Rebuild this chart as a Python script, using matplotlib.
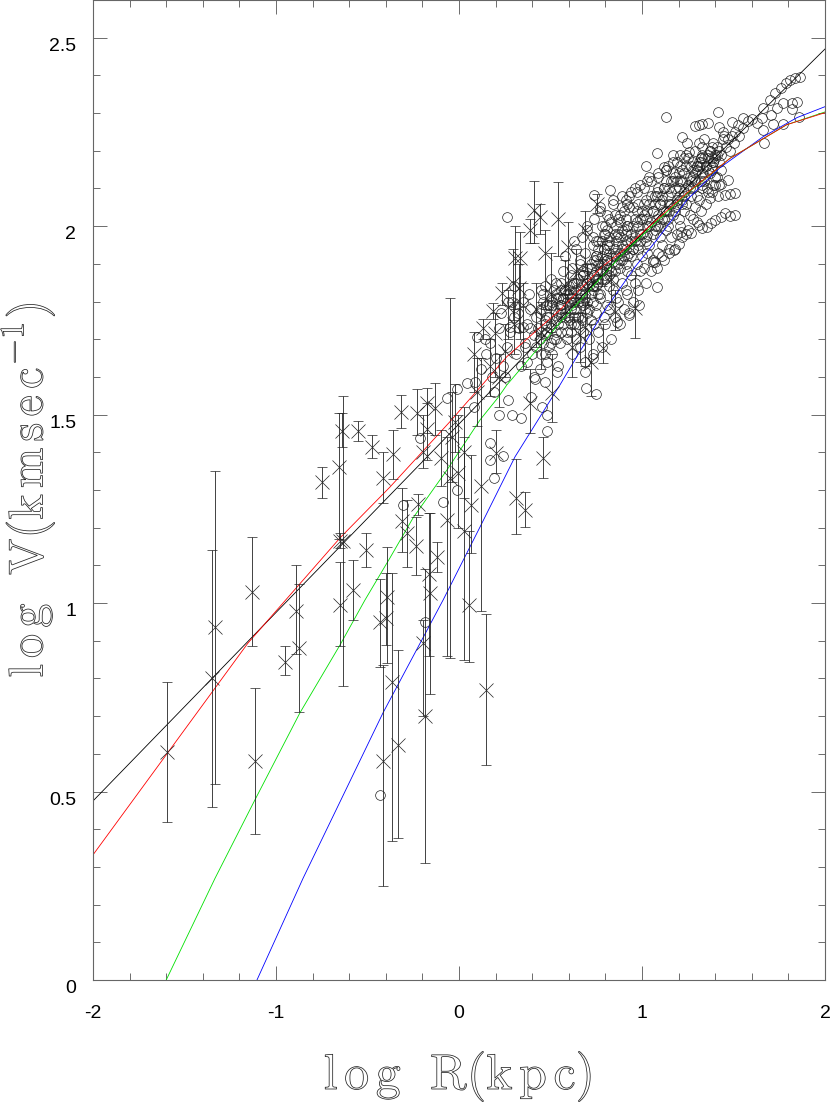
import numpy as np
import matplotlib
matplotlib.use('Agg')
import matplotlib.pyplot as plt
import matplotlib.patheffects as pe
from matplotlib.ticker import MultipleLocator, FixedLocator

# crosses with error bars: log R, log V, upper end, lower end
cross_r = [-1.596, -1.35, -1.333, -1.115, -1.131, -0.95, -0.89, -0.875, -0.65, -0.634,
           -0.65, -0.64, -0.655, -0.75, -0.58, -0.51, -0.55, -0.475, -0.36, -0.415,
           -0.317, -0.23, -0.175, -0.13, -0.175, -0.197, -0.31, -0.224, -0.284, -0.235,
           -0.12, -0.164, -0.16, -0.066, -0.43, -0.393, -0.40, -0.366, -0.415, -0.333,
           -0.186, -0.197, 0.147, 0.055, -0.005, -0.05, 0.03, 0.065, 0.12, 0.03,
           -0.04, -0.10, 0.20, 0.31, 0.36, 0.46, 0.39, 0.51, 0.41, 0.54,
           0.44, 0.39, 0.754, 0.47, 0.306, 0.333, 0.295, 0.328, 0.235, 0.186,
           0.268, 0.35, 0.131, 0.197, 0.596, 0.69, 0.688, 0.852, 0.787, 0.66,
           0.962, 0.10, 0.17, 0.25, 0.08, 0.22, 0.30, 0.42, 0.50, 0.58,
           0.64, 0.70, 0.78, 0.83, 0.62, 0.72, 0.45, -0.02]
cross_v = [0.605, 0.80, 0.937, 0.58, 1.03, 0.845, 0.98, 0.88, 0.995, 1.165,
           1.165, 1.457, 1.36, 1.32, 1.035, 1.14, 1.457, 1.415, 1.395, 1.333,
           1.508, 1.505, 1.53, 1.518, 1.462, 1.40, 1.218, 1.263, 1.186, 1.152,
           1.123, 1.077, 1.027, 1.22, 0.95, 1.015, 0.96, 0.79, 0.58, 0.623,
           0.70, 0.895, 0.77, 0.995, 1.345, 1.333, 1.19, 1.26, 1.31, 1.40,
           1.44, 1.385, 1.398, 1.28, 1.247, 1.385, 1.53, 1.557, 2.043, 2.02,
           2.025, 1.99, 2.06, 1.93, 1.916, 1.916, 1.85, 1.836, 1.823, 1.775,
           1.786, 1.79, 1.73, 1.717, 1.945, 1.99, 1.733, 1.773, 1.677, 1.71,
           1.783, 1.56, 1.63, 1.67, 1.66, 1.60, 1.74, 1.78, 1.82, 1.84,
           1.88, 1.85, 1.90, 1.86, 1.68, 1.64, 1.72, 1.48]
cross_top = [0.79, 1.14, 1.35, 0.775, 1.175, 0.885, 1.10, 1.05, 1.11, 1.55,
             1.185, 1.505, 1.505, 1.36, 1.115, 1.185, 1.483, 1.447, 1.46, 1.40,
             1.553, 1.567, 1.57, 1.584, 1.53, 1.50, 1.305, 1.29, 1.273, 1.229,
             1.162, 1.24, 1.24, 1.44, 1.065, 1.15, 1.08, 1.08, 0.835, 0.876,
             1.09, 0.955, 0.97, 1.19, 1.50, 1.81, 1.44, 1.393, 1.65, 1.52,
             1.56, 1.46, 1.46, 1.383, 1.295, 1.44, 1.62, 1.66, 2.12, 2.118,
             2.06, 2.02, 2.085, 1.99, 2.0, 1.985, 1.94, 1.90, 1.85, 1.795,
             1.83, 1.85, 1.755, 1.77, 2.01, 2.04, 1.80, 1.83, 1.74, 1.77,
             1.87, 1.65, 1.70, 1.74, 1.72, 1.66, 1.80, 1.85, 1.93, 1.91,
             1.94, 1.90, 1.96, 1.93, 1.76, 1.74, 1.80, 1.58]
cross_bot = [0.42, 0.46, 0.52, 0.387, 0.885, 0.81, 0.865, 0.71, 0.885, 0.78,
             1.145, 1.415, 1.17, 1.28, 0.955, 1.095, 1.43, 1.385, 1.33, 1.265,
             1.465, 1.447, 1.45, 1.447, 1.38, 1.358, 1.136, 1.235, 1.096, 1.075,
             1.083, 0.86, 0.76, 0.86, 0.83, 0.84, 0.89, 0.37, 0.25, 0.377,
             0.31, 0.70, 0.57, 0.845, 1.20, 0.855, 0.85, 1.133, 0.98, 1.28,
             1.32, 1.31, 1.345, 1.184, 1.202, 1.333, 1.45, 1.48, 1.956, 1.92,
             1.98, 1.955, 2.035, 1.78, 1.78, 1.70, 1.75, 1.72, 1.79, 1.755,
             1.70, 1.62, 1.70, 1.60, 1.82, 1.88, 1.63, 1.725, 1.637, 1.64,
             1.704, 1.47, 1.55, 1.60, 1.56, 1.52, 1.66, 1.68, 1.72, 1.77,
             1.81, 1.79, 1.84, 1.80, 1.60, 1.55, 1.62, 1.40]

# open circles read one by one where they stand apart
lone_r = [1.863, 1.836, 1.809, 1.787, 1.76, 1.727, 1.70, 1.661, 1.847, 1.82,
          1.77, 1.738, 1.82, 1.858, 1.77, 1.705, 1.656, 1.552, 1.525, 1.492,
          1.661, 1.667, 1.716, 1.60, 1.63, 1.58, 1.415, 1.131, 1.36, 1.33,
          1.31, 1.29, 1.42, 1.44, 1.219, 1.246, 1.311, 1.257, 1.08, 1.169,
          1.022, 1.12, 1.508, 1.48, 1.454, 1.43, 1.399, 1.375, 1.355, 1.33,
          1.311, 1.30, 1.268, 1.24, 1.213, 1.202, 1.175, 1.15, 1.11, 1.07,
          1.508, 1.48, 1.454, 1.415, 1.372, 1.355, 1.399, 1.43, 1.47, -0.43,
          -0.187, 0.098, -0.01, 0.044, -0.066, 0.087, 0.082, 0.268, 0.29, 0.339,
          0.393, -0.213, 0.169, 0.169, 0.24, 0.191, -0.011, -0.087, -0.306, 0.47,
          0.48, 0.481, 0.535, 0.454, 0.415, 0.279, 0.35, 0.388, 0.694, 0.749,
          0.984, 0.929, 0.863, 0.689, 0.732, 0.262, 0.738, 0.825, 1.082, 1.06]
lone_v = [2.397, 2.393, 2.388, 2.38, 2.367, 2.354, 2.335, 2.314, 2.33, 2.327,
          2.327, 2.314, 2.312, 2.29, 2.27, 2.296, 2.288, 2.288, 2.269, 2.277,
          2.256, 2.22, 2.272, 2.285, 2.275, 2.28, 2.304, 2.29, 2.274, 2.27,
          2.268, 2.266, 2.264, 2.25, 2.237, 2.22, 2.22, 2.197, 2.195, 2.19,
          2.16, 2.158, 2.03, 2.028, 2.036, 2.025, 2.017, 2.008, 1.998, 1.996,
          2.004, 2.012, 1.982, 1.98, 1.985, 1.953, 1.937, 1.94, 1.92, 1.905,
          2.089, 2.085, 2.083, 2.08, 2.075, 2.102, 2.11, 2.112, 2.123, 0.49,
          0.95, 1.706, 1.568, 1.584, 1.545, 1.587, 1.52, 1.539, 1.50, 1.491,
          1.547, 1.438, 1.425, 1.38, 1.39, 1.333, 1.30, 1.269, 1.26, 1.587,
          1.50, 1.457, 1.614, 1.52, 1.595, 1.733, 1.733, 1.73, 1.571, 1.555,
          1.791, 1.765, 1.746, 1.614, 1.65, 2.025, 2.083, 2.096, 1.839, 1.906]

# open circles in the dense band, eight to a row
band_r = [0.44, 0.45, 0.46, 0.45, 0.47, 0.44, 0.46, 0.45,
          0.48, 0.49, 0.47, 0.50, 0.48, 0.49, 0.50, 0.47,
          0.51, 0.52, 0.50, 0.53, 0.52, 0.51, 0.53, 0.50,
          0.54, 0.55, 0.53, 0.56, 0.55, 0.54, 0.56, 0.53,
          0.56, 0.57, 0.58, 0.56, 0.57, 0.58, 0.56, 0.57,
          0.59, 0.60, 0.58, 0.61, 0.59, 0.60, 0.61, 0.58,
          0.62, 0.61, 0.63, 0.62, 0.61, 0.63, 0.62, 0.64,
          0.64, 0.65, 0.63, 0.66, 0.64, 0.65, 0.66, 0.63,
          0.66, 0.67, 0.68, 0.66, 0.67, 0.68, 0.66, 0.67,
          0.69, 0.68, 0.70, 0.69, 0.70, 0.68, 0.69, 0.70,
          0.71, 0.72, 0.70, 0.73, 0.71, 0.72, 0.73, 0.70,
          0.73, 0.74, 0.75, 0.73, 0.74, 0.75, 0.73, 0.74,
          0.76, 0.75, 0.77, 0.76, 0.77, 0.75, 0.76, 0.77,
          0.78, 0.79, 0.77, 0.80, 0.78, 0.79, 0.80, 0.77,
          0.80, 0.81, 0.82, 0.80, 0.81, 0.82, 0.80, 0.81,
          0.83, 0.82, 0.84, 0.83, 0.84, 0.82, 0.83, 0.84,
          0.85, 0.86, 0.84, 0.87, 0.85, 0.86, 0.87, 0.84,
          0.88, 0.87, 0.89, 0.88, 0.89, 0.87, 0.88, 0.89,
          0.90, 0.91, 0.92, 0.90, 0.91, 0.92, 0.90, 0.91,
          0.93, 0.92, 0.94, 0.93, 0.94, 0.92, 0.93, 0.94,
          0.95, 0.96, 0.97, 0.95, 0.96, 0.97, 0.95, 0.96,
          0.98, 0.99, 1.00, 0.98, 0.99, 1.00, 0.98, 0.99,
          1.02, 1.01, 1.03, 1.02, 1.03, 1.01, 1.02, 1.03,
          1.05, 1.06, 1.04, 1.07, 1.05, 1.06, 1.07, 1.04,
          1.08, 1.09, 1.10, 1.08, 1.09, 1.10, 1.08, 1.09,
          1.12, 1.11, 1.13, 1.12, 1.13, 1.11, 1.12, 1.13,
          1.15, 1.16, 1.14, 1.17, 1.15, 1.16, 1.17, 1.14,
          1.18, 1.19, 1.20, 1.18, 1.19, 1.20, 1.18, 1.19,
          1.22, 1.21, 1.23, 1.22, 1.23, 1.21, 1.22, 1.23,
          1.25, 1.26, 1.24, 1.27, 1.25, 1.26, 1.27, 1.24,
          1.28, 1.29, 1.30, 1.28, 1.29, 1.30, 1.28, 1.29,
          1.32, 1.31, 1.33, 1.32, 1.33, 1.31, 1.32, 1.33,
          1.35, 1.36, 1.34, 1.37, 1.35, 1.36, 1.37, 1.34,
          1.38, 1.39, 1.40, 1.38, 1.39, 1.40, 1.38, 1.39,
          1.42, 1.41, 1.43, 1.42, 1.43, 1.41, 1.44, 1.45,
          1.46, 1.47, 1.48, 1.49, 1.50, 1.51, 1.53, 1.55]
band_v = [1.62, 1.66, 1.69, 1.72, 1.74, 1.77, 1.80, 1.83,
          1.64, 1.68, 1.71, 1.74, 1.76, 1.79, 1.81, 1.84,
          1.66, 1.70, 1.73, 1.75, 1.78, 1.80, 1.82, 1.86,
          1.63, 1.69, 1.72, 1.76, 1.78, 1.81, 1.83, 1.85,
          1.72, 1.74, 1.76, 1.79, 1.81, 1.83, 1.85, 1.88,
          1.70, 1.75, 1.77, 1.80, 1.82, 1.84, 1.87, 1.92,
          1.66, 1.72, 1.76, 1.79, 1.81, 1.85, 1.89, 1.94,
          1.70, 1.74, 1.78, 1.81, 1.83, 1.86, 1.90, 1.96,
          1.68, 1.75, 1.79, 1.82, 1.84, 1.87, 1.91, 1.97,
          1.64, 1.72, 1.77, 1.81, 1.85, 1.88, 1.93, 1.99,
          1.70, 1.75, 1.80, 1.83, 1.86, 1.90, 1.95, 2.00,
          1.66, 1.74, 1.79, 1.84, 1.87, 1.91, 1.97, 2.02,
          1.72, 1.77, 1.82, 1.85, 1.88, 1.92, 1.96, 2.04,
          1.68, 1.76, 1.81, 1.86, 1.90, 1.94, 1.98, 2.05,
          1.74, 1.79, 1.84, 1.87, 1.91, 1.95, 2.00, 2.03,
          1.70, 1.78, 1.83, 1.88, 1.92, 1.96, 2.01, 2.06,
          1.76, 1.81, 1.86, 1.90, 1.93, 1.97, 2.02, 2.07,
          1.74, 1.80, 1.85, 1.91, 1.94, 1.98, 2.03, 2.08,
          1.78, 1.83, 1.88, 1.92, 1.95, 1.99, 2.04, 2.07,
          1.77, 1.82, 1.87, 1.93, 1.96, 2.00, 2.05, 2.09,
          1.80, 1.85, 1.90, 1.94, 1.97, 2.01, 2.05, 2.10,
          1.83, 1.88, 1.92, 1.95, 1.98, 2.02, 2.06, 2.11,
          1.85, 1.89, 1.93, 1.97, 2.00, 2.03, 2.07, 2.12,
          1.88, 1.91, 1.95, 1.99, 2.01, 2.04, 2.08, 2.13,
          1.89, 1.93, 1.97, 2.00, 2.03, 2.06, 2.09, 2.14,
          1.91, 1.95, 1.99, 2.02, 2.04, 2.07, 2.10, 2.15,
          1.93, 1.97, 2.00, 2.03, 2.06, 2.09, 2.12, 2.16,
          1.94, 1.98, 2.02, 2.05, 2.07, 2.10, 2.13, 2.17,
          1.97, 2.00, 2.04, 2.07, 2.09, 2.12, 2.15, 2.18,
          1.99, 2.03, 2.06, 2.08, 2.11, 2.13, 2.16, 2.19,
          2.02, 2.05, 2.08, 2.10, 2.12, 2.15, 2.17, 2.20,
          2.04, 2.07, 2.10, 2.12, 2.14, 2.16, 2.18, 2.21,
          2.06, 2.09, 2.12, 2.14, 2.16, 2.18, 2.20, 2.23,
          2.09, 2.11, 2.13, 2.15, 2.17, 2.19, 2.21, 2.22,
          2.11, 2.13, 2.15, 2.17, 2.19, 2.21, 2.23, 2.24,
          2.21, 2.23, 2.20, 2.24, 2.22, 2.25, 2.24, 2.26]

# second pass over the band: the tight stacks and the part below log R = 0.5
stack_r = [0.12, 0.15, 0.18, 0.14, 0.20, 0.17, 0.22, 0.19,
           0.24, 0.26, 0.23, 0.28, 0.25, 0.27, 0.30, 0.22,
           0.31, 0.33, 0.29, 0.34, 0.32, 0.36, 0.30, 0.35,
           0.37, 0.39, 0.36, 0.41, 0.38, 0.40, 0.42, 0.37,
           0.43, 0.45, 0.42, 0.47, 0.44, 0.46, 0.48, 0.41,
           0.49, 0.51, 0.48, 0.53, 0.50, 0.52, 0.54, 0.47,
           0.55, 0.57, 0.54, 0.59, 0.56, 0.58, 0.60, 0.53,
           0.60, 0.61, 0.62, 0.60, 0.61, 0.62, 0.63, 0.59,
           0.64, 0.65, 0.66, 0.64, 0.65, 0.66, 0.67, 0.63,
           0.68, 0.69, 0.70, 0.68, 0.69, 0.70, 0.71, 0.67,
           0.72, 0.73, 0.74, 0.72, 0.73, 0.74, 0.75, 0.71,
           0.75, 0.76, 0.75, 0.76, 0.75, 0.76, 0.75, 0.76,
           0.78, 0.78, 0.79, 0.78, 0.79, 0.78, 0.79, 0.78,
           0.82, 0.82, 0.81, 0.82, 0.81, 0.82, 0.81, 0.82,
           0.85, 0.85, 0.86, 0.85, 0.86, 0.85, 0.86, 0.85,
           0.88, 0.89, 0.88, 0.89, 0.88, 0.89, 0.88, 0.89,
           0.91, 0.92, 0.91, 0.92, 0.91, 0.92, 0.91, 0.92,
           0.94, 0.95, 0.96, 0.94, 0.95, 0.96, 0.97, 0.93,
           0.98, 0.99, 1.00, 0.98, 0.99, 1.00, 1.01, 0.97,
           1.02, 1.03, 1.04, 1.02, 1.03, 1.04, 1.05, 1.01,
           1.06, 1.07, 1.08, 1.06, 1.07, 1.08, 1.09, 1.05,
           1.10, 1.11, 1.12, 1.10, 1.11, 1.12, 1.13, 1.09,
           1.14, 1.15, 1.16, 1.14, 1.15, 1.16, 1.17, 1.13,
           1.18, 1.19, 1.20, 1.18, 1.19, 1.20, 1.21, 1.17,
           1.22, 1.23, 1.24, 1.22, 1.23, 1.24, 1.25, 1.21,
           1.26, 1.27, 1.28, 1.29, 1.30, 1.31, 1.32, 1.33,
           1.28, 1.30, 1.32, 1.34, 1.35, 1.36, 1.37, 1.38,
           1.33, 1.34, 1.36, 1.38, 1.39, 1.40, 1.41, 1.42]
stack_v = [1.62, 1.66, 1.60, 1.70, 1.65, 1.69, 1.73, 1.56,
           1.63, 1.68, 1.77, 1.72, 1.60, 1.80, 1.76, 1.50,
           1.66, 1.73, 1.80, 1.63, 1.77, 1.69, 1.84, 1.80,
           1.74, 1.78, 1.68, 1.71, 1.82, 1.66, 1.76, 1.64,
           1.73, 1.78, 1.68, 1.75, 1.70, 1.82, 1.79, 1.60,
           1.76, 1.79, 1.72, 1.81, 1.69, 1.83, 1.77, 1.66,
           1.79, 1.81, 1.74, 1.80, 1.77, 1.83, 1.82, 1.70,
           1.76, 1.78, 1.81, 1.83, 1.74, 1.85, 1.80, 1.72,
           1.78, 1.80, 1.83, 1.85, 1.76, 1.87, 1.82, 1.74,
           1.80, 1.82, 1.85, 1.87, 1.78, 1.89, 1.84, 1.76,
           1.82, 1.84, 1.87, 1.89, 1.80, 1.91, 1.86, 1.78,
           1.84, 1.86, 1.88, 1.90, 1.92, 1.94, 1.96, 1.82,
           1.86, 1.88, 1.90, 1.92, 1.94, 1.96, 1.98, 2.00,
           1.87, 1.89, 1.91, 1.93, 1.95, 1.97, 1.99, 2.02,
           1.88, 1.90, 1.92, 1.94, 1.96, 1.98, 2.00, 2.03,
           1.89, 1.91, 1.93, 1.95, 1.97, 1.99, 2.01, 2.05,
           1.90, 1.92, 1.94, 1.96, 1.98, 2.00, 2.02, 2.06,
           1.92, 1.94, 1.96, 1.98, 2.00, 2.02, 2.04, 2.08,
           1.94, 1.96, 1.98, 2.00, 2.02, 2.04, 2.06, 2.09,
           1.96, 1.98, 2.00, 2.02, 2.04, 2.06, 2.08, 2.10,
           1.98, 2.00, 2.02, 2.04, 2.06, 2.08, 2.10, 2.12,
           2.00, 2.02, 2.04, 2.06, 2.08, 2.10, 2.12, 2.13,
           2.02, 2.04, 2.06, 2.08, 2.10, 2.12, 2.14, 2.15,
           2.04, 2.06, 2.08, 2.10, 2.12, 2.14, 2.16, 2.17,
           2.06, 2.08, 2.10, 2.12, 2.14, 2.16, 2.18, 2.19,
           2.10, 2.12, 2.13, 2.14, 2.16, 2.17, 2.18, 2.19,
           2.15, 2.16, 2.17, 2.18, 2.16, 2.19, 2.20, 2.18,
           2.11, 2.13, 2.15, 2.16, 2.17, 2.18, 2.19, 2.20]

# fit curves
black_r = [-2.0, -1.35, -0.05, 1.443, 2.0]
black_v = [0.475, 0.80, 1.45, 2.203, 2.47]
red_r = [-2.0, -1.153, -0.65, -0.377, -0.05, 0.262, 0.552, 0.781, 0.88, 1.08,
         1.246, 1.481, 1.607, 1.79, 2.0]
red_v = [0.332, 0.894, 1.173, 1.308, 1.481, 1.654, 1.778, 1.892, 1.929, 2.017,
         2.088, 2.18, 2.216, 2.269, 2.301]
green_r = [-1.60, -1.333, -1.115, -0.869, -0.65, -0.514, -0.377, -0.251, -0.066, 0.115,
           0.213, 0.262, 0.552, 0.781, 0.88, 1.08, 1.246, 1.481, 1.607, 1.79, 2.0]
green_v = [0.0, 0.27, 0.478, 0.709, 0.889, 1.008, 1.12, 1.226, 1.353, 1.486,
           1.545, 1.579, 1.744, 1.866, 1.919, 2.012, 2.086, 2.18, 2.216, 2.269, 2.303]
blue_r = [-1.104, -0.852, -0.415, -0.087, 0.115, 0.306, 0.508, 0.552, 0.787, 0.962,
          1.082, 1.246, 1.426, 1.661, 1.847, 2.0]
blue_v = [0.0, 0.27, 0.709, 1.008, 1.202, 1.388, 1.545, 1.579, 1.77, 1.892,
          1.964, 2.07, 2.155, 2.237, 2.288, 2.317]

xtick_vals = [-2, -1, 0, 1, 2]
xtick_text = ['-2', '-1', '0', '1', '2']
ytick_vals = [0, 0.5, 1, 1.5, 2, 2.5]
ytick_text = ['0', '0.5', '1', '1.5', '2', '2.5']

plt.rcParams['mathtext.fontset'] = 'cm'

fig = plt.figure(figsize=(8.3, 11.05), dpi=100)
ax = fig.add_axes([93/830, 125/1105, 732/830, 980/1105])

for cr, cv in [(lone_r, lone_v), (band_r, band_v), (stack_r, stack_v)]:
    ax.plot(cr, cv, 'o', mfc='none', mec='#222222', mew=0.5, ms=7.0)

ax.plot(black_r, black_v, color='black', lw=0.6)
ax.plot(blue_r, blue_v, color='#0000ff', lw=0.6)
ax.plot(green_r, green_v, color='#00e000', lw=0.6)
ax.plot(red_r, red_v, color='#ff0000', lw=0.6)

cross_r = np.array(cross_r)
cross_v = np.array(cross_v)
err_lo = cross_v - np.array(cross_bot)
err_hi = np.array(cross_top) - cross_v
ax.errorbar(cross_r, cross_v, yerr=[err_lo, err_hi], fmt='x', color='#222222',
            ms=9.5, mew=0.5, elinewidth=0.6, capsize=3.5, capthick=0.6)

ax.set_xlim(-2, 2)
ax.set_ylim(0, 2.6)
ax.xaxis.set_major_locator(FixedLocator(xtick_vals))
ax.yaxis.set_major_locator(FixedLocator(ytick_vals))
ax.xaxis.set_minor_locator(MultipleLocator(0.2))
ax.yaxis.set_minor_locator(MultipleLocator(0.1))
ax.set_xticklabels(xtick_text)
ax.set_yticklabels(ytick_text, va='top')
ax.tick_params(which='major', direction='in', length=10, width=0.6, color='#555555',
               top=True, right=True, labelsize=14)
ax.tick_params(which='minor', direction='in', length=5, width=0.6, color='#555555',
               top=True, right=True)
ax.tick_params(axis='x', which='major', pad=18)
ax.tick_params(axis='y', which='major', pad=12)
for lab in ax.get_xticklabels() + ax.get_yticklabels():
    lab.set_family('Liberation Sans')
for s in ax.spines.values():
    s.set_linewidth(0.8)
    s.set_color('#666666')

# hairline outline letters, as in the plotted Hershey labels
outline = [pe.Stroke(linewidth=0.55, foreground='#222222')]
fig.text(458/830, 1-1076/1105,
         r'$\mathrm{l\hspace{0.15}o\hspace{0.15}g\ \ R(k\hspace{0.15}p\hspace{0.15}c)}$',
         fontsize=36, color='white', ha='center', va='center', path_effects=outline)
fig.text(28/830, 1-490/1105,
         r'$\mathrm{l\hspace{0.14}o\hspace{0.14}g\ \ V(k\hspace{0.14}m\hspace{0.14}s\hspace{0.14}e\hspace{0.14}c^{-1})}$',
         fontsize=35, color='white', rotation=90, ha='center', va='center', path_effects=outline)

fig.savefig('out.png', dpi=100)
